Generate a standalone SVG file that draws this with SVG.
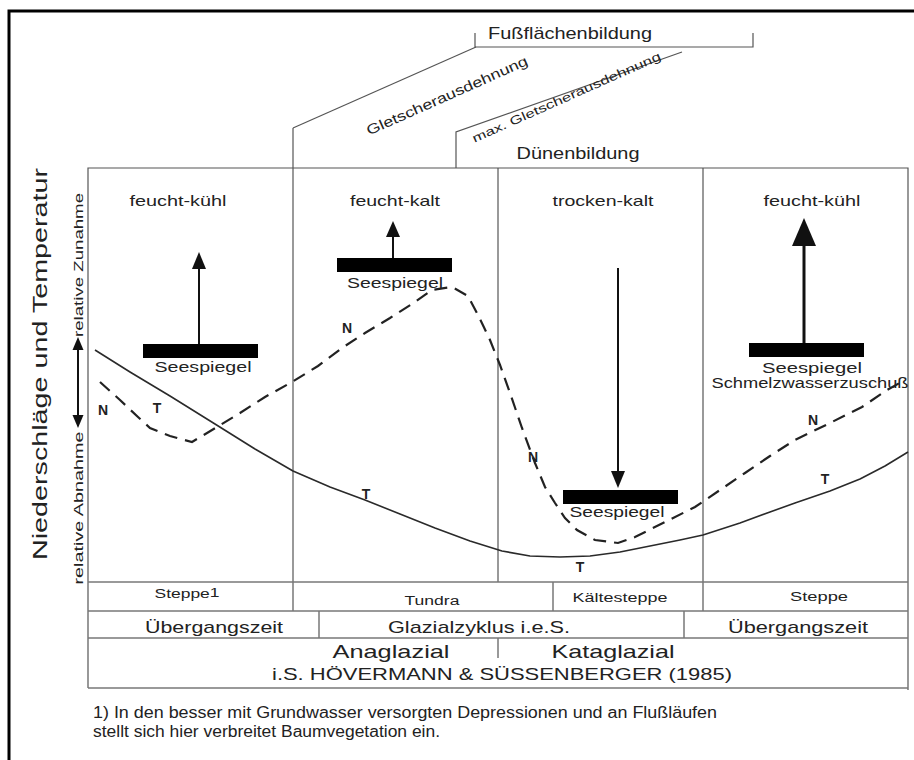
<svg xmlns="http://www.w3.org/2000/svg" width="914" height="760" viewBox="0 0 914 760">
<style>
text{font-family:"Liberation Sans",Arial,sans-serif;fill:#222;}
.ln{stroke:#555;stroke-width:1.2;fill:none;}
.tb{stroke:#777;stroke-width:1.5;fill:none;}
.cur{stroke:#2a2a2a;stroke-width:1.6;fill:none;stroke-linejoin:round;}
.dash{stroke:#222;stroke-width:2.2;fill:none;stroke-dasharray:13 8;}
.bar{fill:#000;}
.arr{stroke:#111;stroke-width:2;fill:none;}
.head{fill:#111;}
.c{text-anchor:middle;}
.lbl{font-size:15px;}
.cl{font-size:15px;}
.nt{font-size:14px;font-weight:bold;}
</style>
<rect width="914" height="760" fill="#fff"/>
<path d="M9,760 V11 H914" stroke="#000" stroke-width="3" fill="none"/>

<g id="top-phases">
<path class="ln" d="M475,33 V47 H753 V33"/>
<text class="c" x="570" y="39" font-size="17" textLength="164" lengthAdjust="spacingAndGlyphs">Fußflächenbildung</text>
<path class="ln" d="M293,128 L476,47"/>
<text class="c" font-size="14" transform="translate(449,100) rotate(-24)" textLength="175" lengthAdjust="spacingAndGlyphs">Gletscherausdehnung</text>
<path class="ln" d="M456,168 V132 L682,52"/>
<text class="c" font-size="12" transform="translate(568,101) rotate(-24)" textLength="205" lengthAdjust="spacingAndGlyphs">max. Gletscherausdehnung</text>
<text class="c" x="578" y="159" font-size="16" textLength="123" lengthAdjust="spacingAndGlyphs">Dünenbildung</text>
</g>

<g id="axis">
<text class="c" font-size="21" transform="translate(47,364) rotate(-90)" textLength="392" lengthAdjust="spacingAndGlyphs">Niederschläge und Temperatur</text>
<text class="c" font-size="12.5" transform="translate(83,265) rotate(-90)" textLength="144" lengthAdjust="spacingAndGlyphs">relative Zunahme</text>
<text class="c" font-size="12.5" transform="translate(83,508) rotate(-90)" textLength="153" lengthAdjust="spacingAndGlyphs">relative Abnahme</text>
<line class="arr" x1="78" y1="347" x2="78" y2="418"/>
<polygon class="head" points="78,337 72.5,350 83.5,350"/>
<polygon class="head" points="78,428 72.5,415 83.5,415"/>
</g>

<g id="frame">
<path class="ln" d="M88,688 V168 H908 V690"/>
<line class="ln" x1="293" y1="128" x2="293" y2="611"/>
<line class="ln" x1="498" y1="168" x2="498" y2="582"/>
<line class="ln" x1="703" y1="168" x2="703" y2="611"/>
</g>

<g id="col1">
<text class="c cl" x="178" y="206" textLength="97" lengthAdjust="spacingAndGlyphs">feucht-kühl</text>
<line class="arr" x1="199" y1="344" x2="199" y2="266"/>
<polygon class="head" points="199,252 192,269 206,269"/>
<rect class="bar" x="143" y="344" width="115" height="14"/>
<text class="c lbl" x="203" y="372" textLength="97" lengthAdjust="spacingAndGlyphs">Seespiegel</text>
</g>

<g id="col2">
<text class="c cl" x="395" y="206" textLength="90" lengthAdjust="spacingAndGlyphs">feucht-kalt</text>
<line class="arr" x1="393" y1="258" x2="393" y2="234"/>
<polygon class="head" points="393,221 386,237 400,237"/>
<rect class="bar" x="337" y="258" width="115" height="14"/>
<text class="c lbl" x="395" y="288" textLength="96" lengthAdjust="spacingAndGlyphs">Seespiegel</text>
</g>

<g id="col3">
<text class="c cl" x="603" y="206" textLength="101" lengthAdjust="spacingAndGlyphs">trocken-kalt</text>
<line class="arr" x1="618" y1="268" x2="618" y2="474"/>
<polygon class="head" points="618,488 611,471 625,471"/>
<rect class="bar" x="563" y="490" width="115" height="14"/>
<text class="c lbl" x="617" y="517" textLength="95" lengthAdjust="spacingAndGlyphs">Seespiegel</text>
</g>

<g id="col4">
<text class="c cl" x="812" y="206" textLength="97" lengthAdjust="spacingAndGlyphs">feucht-kühl</text>
<line x1="804" y1="343" x2="804" y2="242" stroke="#111" stroke-width="3"/>
<polygon class="head" points="804,218 792,246 816,246"/>
<rect class="bar" x="749" y="343" width="115" height="14"/>
<text class="c lbl" x="812" y="373" textLength="100" lengthAdjust="spacingAndGlyphs">Seespiegel</text>
<text class="c" x="810" y="388" font-size="14" textLength="197" lengthAdjust="spacingAndGlyphs">Schmelzwasserzuschuß</text>
</g>

<g id="curves">
<path class="cur" d="M95,350 L130,372 L170,396 L215,424 L255,449 L293,471 L330,487 L365,500 L400,514 L435,528 L470,541 L502,551 L530,556 L560,557 L590,556 L620,552 L650,546 L680,540 L703,535 L740,523 L770,512 L795,503 L830,491 L860,479 L885,466 L908,452"/>
<path class="dash" d="M100,382 L120,400 L138,417 L150,428 L170,436 L192,442 L212,430 L240,413 L265,397 L292,382 L318,366 L342,348 L365,333 L390,318 L415,302 L432,290 L452,287 L468,296 L478,315 L490,340 L500,365 L510,393 L522,428 L535,463 L545,487 L555,503 L565,518 L577,530 L595,540 L618,543 L635,537 L665,522 L695,507 L720,490 L745,473 L770,456 L795,440 L830,423 L862,407 L887,390 L905,380"/>
<text class="c nt" x="103" y="415">N</text>
<text class="c nt" x="157" y="413">T</text>
<text class="c nt" x="347" y="333">N</text>
<text class="c nt" x="366" y="499">T</text>
<text class="c nt" x="533" y="462">N</text>
<text class="c nt" x="580" y="572">T</text>
<text class="c nt" x="813" y="425">N</text>
<text class="c nt" x="825" y="484">T</text>
</g>

<g id="table">
<line class="tb" x1="88" y1="582" x2="908" y2="582"/>
<line class="tb" x1="88" y1="611" x2="908" y2="611"/>
<line class="tb" x1="88" y1="638" x2="908" y2="638"/>
<line class="tb" x1="88" y1="688" x2="908" y2="688"/>
<line class="tb" x1="553" y1="582" x2="553" y2="611"/>
<line class="tb" x1="319" y1="611" x2="319" y2="638"/>
<line class="tb" x1="684" y1="611" x2="684" y2="638"/>
<line class="tb" x1="498" y1="638" x2="498" y2="658"/>
<text class="c" x="187" y="598" font-size="12.5" textLength="65" lengthAdjust="spacingAndGlyphs">Steppe<tspan dy="-1">1</tspan></text>
<text class="c" x="432" y="605" font-size="12.5" textLength="55" lengthAdjust="spacingAndGlyphs">Tundra</text>
<text class="c" x="620" y="602" font-size="12.5" textLength="95" lengthAdjust="spacingAndGlyphs">Kältesteppe</text>
<text class="c" x="819" y="601" font-size="12.5" textLength="58" lengthAdjust="spacingAndGlyphs">Steppe</text>
<text class="c" x="214" y="633" font-size="17" textLength="138" lengthAdjust="spacingAndGlyphs">Übergangszeit</text>
<text class="c" x="479" y="633" font-size="17" textLength="182" lengthAdjust="spacingAndGlyphs">Glazialzyklus i.e.S.</text>
<text class="c" x="798" y="633" font-size="17" textLength="140" lengthAdjust="spacingAndGlyphs">Übergangszeit</text>
<text class="c" x="391" y="658" font-size="19" textLength="117" lengthAdjust="spacingAndGlyphs">Anaglazial</text>
<text class="c" x="613" y="658" font-size="19" textLength="123" lengthAdjust="spacingAndGlyphs">Kataglazial</text>
<text class="c" x="502" y="680" font-size="17" textLength="460" lengthAdjust="spacingAndGlyphs">i.S. HÖVERMANN &amp; SÜSSENBERGER (1985)</text>
</g>

<g id="footnote">
<text x="93" y="718" font-size="16" textLength="624" lengthAdjust="spacingAndGlyphs">1) In den besser mit Grundwasser versorgten Depressionen und an Flußläufen</text>
<text x="93" y="737" font-size="16" textLength="347" lengthAdjust="spacingAndGlyphs">stellt sich hier verbreitet Baumvegetation ein.</text>
</g>
</svg>
